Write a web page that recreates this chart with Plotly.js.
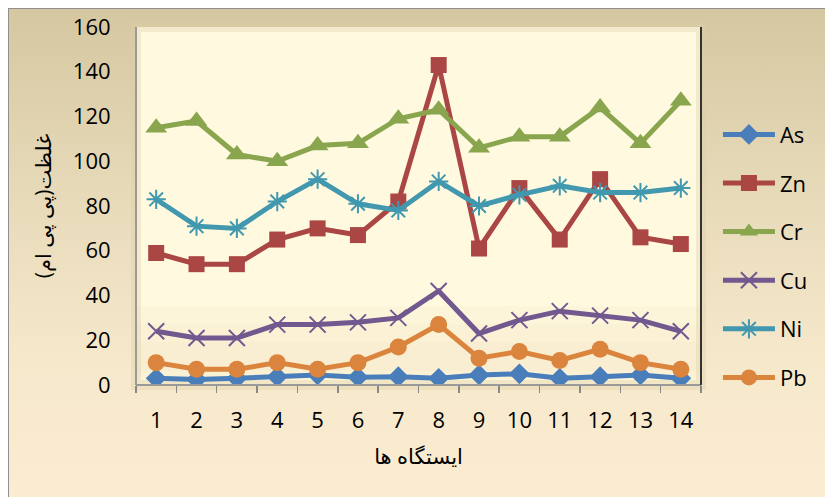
<!DOCTYPE html>
<html>
<head>
<meta charset="utf-8">
<script src="https://cdn.plot.ly/plotly-3.0.1.min.js"></script>
<style>
  html, body { margin:0; padding:0; background:#ffffff; width:825px; height:497px; overflow:hidden; }
  #frame { position:absolute; left:8px; top:8px; width:830px; height:500px;
           border-left:1px solid #8f8f8f; border-top:1px solid #8f8f8f;
           background: linear-gradient(to bottom, #D5C7A0 0%, #E6D9B8 35%, #F6E8CB 70%, #FCEDD2 100%); }
  #chart { position:absolute; left:0; top:0; width:825px; height:497px; }
</style>
</head>
<body>
<div id="frame"></div>
<div id="chart"></div>
<script>
const stations = ['1','2','3','4','5','6','7','8','9','10','11','12','13','14'];
const As = [3, 2.5, 3, 3.7, 4.5, 3.5, 3.7, 3, 4.5, 5, 3, 3.7, 4.5, 3];
const Zn = [59, 54, 54, 65, 70, 67, 82, 143, 61, 88, 65, 92, 66, 63];
const Cr = [115, 118, 103, 100, 107, 108, 119, 123, 106, 111, 111, 124, 108, 127];
const Cu = [24, 21, 21, 27, 27, 28, 30, 42, 23, 29, 33, 31, 29, 24];
const Ni = [83, 71, 70, 82, 92, 81, 78, 91, 80, 85, 89, 86, 86, 88];
const Pb = [10, 7, 7, 10, 7, 10, 17, 27, 12, 15, 11, 16, 10, 7];
const yTickVals = [0, 20, 40, 60, 80, 100, 120, 140, 160];
const xTitle = 'ایستگاه ها';
const yTitle = 'غلظت(پی پی ام)';

const series = [
  {name:'As', y:As, color:'#4A7EBB', symbol:'diamond', size:16, mline:0},
  {name:'Zn', y:Zn, color:'#AA4643', symbol:'square', size:16, mline:0},
  {name:'Cr', y:Cr, color:'#89A54E', symbol:'triangle-up', size:19, mline:0},
  {name:'Cu', y:Cu, color:'#71588F', symbol:'x-thin-open', size:16, mline:2},
  {name:'Ni', y:Ni, color:'#4198AF', symbol:'asterisk-open', size:16, mline:2},
  {name:'Pb', y:Pb, color:'#DB843D', symbol:'circle', size:17, mline:0}
];

const traces = series.map((s, i) => ({
  type:'scatter', mode:'lines+markers', name:s.name, x:stations, y:s.y,
  legendgroup:'g'+i,
  line:{color:s.color, width:5},
  marker:{symbol:s.symbol, size:s.size, color:s.color, line:{color:s.color, width:s.mline}}
}));

const fam = '"Open Sans", "Noto Sans", "DejaVu Sans", sans-serif';

const layout = {
  width:825, height:497,
  margin:{l:136, r:116, t:27, b:112},
  paper_bgcolor:'rgba(0,0,0,0)',
  plot_bgcolor:'#FFF9DF',
  font:{family:fam, size:21, color:'#000'},
  showlegend:true,
  legend:{x:1.03, xanchor:'left', y:0.36, yanchor:'middle', bgcolor:'rgba(0,0,0,0)',
          font:{family:fam, size:22, color:'#000'}, tracegroupgap:17, traceorder:'grouped',
          itemwidth:52},
  xaxis:{type:'category', range:[-0.5, 13.5], showgrid:false, zeroline:false,
         showline:false, ticks:'outside', ticklen:7, tickcolor:'#888', tickwidth:1.5,
         tickson:'boundaries', tickfont:{size:22}, ticklabelstandoff:20,
         title:{text:xTitle, font:{size:21}, standoff:16}},
  yaxis:{range:[0,160], tickvals:yTickVals, showgrid:false, zeroline:false,
         showline:false, ticks:'outside', ticklen:20, tickcolor:'rgba(0,0,0,0)', tickfont:{size:22},
         title:{text:yTitle, font:{size:21}, standoff:15}},
  shapes:[
    {type:'rect', xref:'paper', yref:'paper', x0:0, x1:1, y0:0, y1:1, layer:'below',
     line:{color:'rgba(220,205,165,0.35)', width:10}, fillcolor:'rgba(0,0,0,0)'},
    {type:'rect', xref:'paper', yref:'paper', x0:0, x1:1, y0:0.0, y1:0.22, layer:'below',
     line:{width:0}, fillcolor:'rgba(225,205,160,0.07)'},
    {type:'rect', xref:'paper', yref:'paper', x0:0, x1:1, y0:0.02, y1:0.17, layer:'below',
     line:{width:0}, fillcolor:'rgba(225,205,160,0.08)'},
    {type:'rect', xref:'paper', yref:'paper', x0:0, x1:1, y0:0.04, y1:0.12, layer:'below',
     line:{width:0}, fillcolor:'rgba(225,205,160,0.08)'},
    {type:'line', xref:'paper', yref:'paper', x0:0, x1:0, y0:0, y1:1, line:{color:'#9a9a9a', width:2}},
    {type:'line', xref:'paper', yref:'paper', x0:0, x1:1, y0:0, y1:0, line:{color:'#9a9a9a', width:2}},
    {type:'line', xref:'paper', yref:'paper', x0:1, x1:1, y0:0, y1:1, line:{color:'#333', width:2}}
  ]
};

Plotly.newPlot('chart', traces, layout, {displayModeBar:false, staticPlot:true});
</script>
</body>
</html>
